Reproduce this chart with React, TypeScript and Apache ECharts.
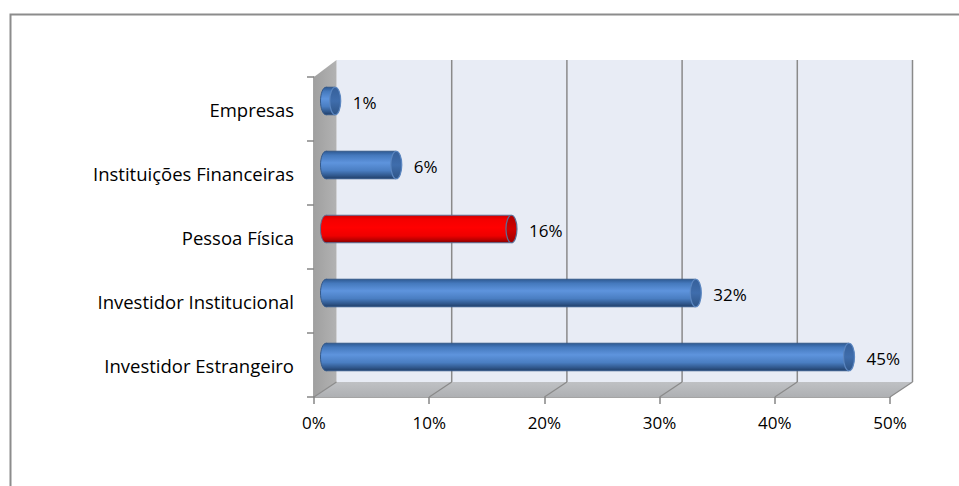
import React, { useEffect, useRef } from "react";
import * as echarts from "echarts";

const categories = [
  "Empresas",
  "Instituições Financeiras",
  "Pessoa Física",
  "Investidor Institucional",
  "Investidor Estrangeiro",
];
const values = [0.8, 6.1, 16.1, 32.1, 45.4];
const highlighted = [false, false, true, false, false];
const xMin = 0;
const xMax = 50;
const xStep = 10;

const FONT = "'Open Sans', Lato, sans-serif";
const FS = 17;
const CAT_FS = 18.5;
const BACK_DX = 22.5;
const BACK_DY = -15;
const BAR_DX = 12;
const BAR_DY = -8;

export default function App() {
  const ref = useRef<HTMLDivElement>(null);

  useEffect(() => {
    if (!ref.current) return;
    const chart = echarts.init(ref.current, null, { renderer: "svg" });

    const blueBody = () =>
      new echarts.graphic.LinearGradient(0, 0, 0, 1, [
        { offset: 0, color: "#2e5a93" },
        { offset: 0.15, color: "#4579bd" },
        { offset: 0.42, color: "#5e94dd" },
        { offset: 0.7, color: "#4a7ec2" },
        { offset: 0.88, color: "#31598f" },
        { offset: 1, color: "#213f68" },
      ]);
    const redBody = () =>
      new echarts.graphic.LinearGradient(0, 0, 0, 1, [
        { offset: 0, color: "#d00000" },
        { offset: 0.15, color: "#f40000" },
        { offset: 0.45, color: "#ff0000" },
        { offset: 0.75, color: "#ee0000" },
        { offset: 0.9, color: "#b80000" },
        { offset: 1, color: "#800000" },
      ]);

    const wallsData = [[0, 0]];
    const barData = values.map((v, i) => [v, i]);
    const ticks: number[] = [];
    for (let v = xMin; v <= xMax; v += xStep) ticks.push(v);

    chart.setOption({
      animation: false,
      backgroundColor: "#ffffff",
      grid: { left: 314, right: 69, top: 77, bottom: 89, containLabel: false },
      xAxis: {
        type: "value",
        min: xMin,
        max: xMax,
        interval: xStep,
        axisLine: { show: true, lineStyle: { color: "#868686", width: 1.5 } },
        axisTick: { show: true, length: 7, lineStyle: { color: "#868686", width: 1.5 } },
        splitLine: { show: false },
        axisLabel: {
          formatter: "{value}%",
          color: "#000",
          fontSize: FS,
          fontFamily: FONT,
          margin: 17,
        },
      },
      yAxis: {
        type: "category",
        data: categories,
        inverse: true,
        axisLine: { show: true, lineStyle: { color: "#868686", width: 1.5 } },
        axisTick: { show: true, length: 7, lineStyle: { color: "#868686", width: 1.5 } },
        splitLine: { show: false },
        axisLabel: {
          color: "#000",
          fontSize: CAT_FS,
          fontFamily: FONT,
          margin: 20,
        },
      },
      graphic: [
        {
          type: "rect",
          shape: { x: 10.5, y: 14.5, width: 1000, height: 1000 },
          style: { fill: "none", stroke: "#8c8c8c", lineWidth: 2 },
          silent: true,
          z: 0,
        },
      ],
      series: [
        {
          type: "custom",
          z: 1,
          silent: true,
          data: wallsData,
          encode: { x: 0, y: 1 },
          renderItem: (params: any, api: any) => {
            const cs = params.coordSys;
            const L = cs.x;
            const T = cs.y;
            const B = cs.y + cs.height;
            const R = cs.x + cs.width;
            const children: any[] = [];
            children.push({
              type: "rect",
              shape: { x: L + BACK_DX, y: T + BACK_DY - 2, width: R - L, height: B - T + 2 },
              style: { fill: "#e8ecf5" },
            });
            children.push({
              type: "polygon",
              shape: {
                points: [
                  [L, B],
                  [L + BACK_DX, B + BACK_DY],
                  [R + BACK_DX, B + BACK_DY],
                  [R, B],
                ],
              },
              style: {
                fill: new echarts.graphic.LinearGradient(0, 0, 0, 1, [
                  { offset: 0, color: "#bfc1c4" },
                  { offset: 1, color: "#aeb0b3" },
                ]),
              },
            });
            children.push({
              type: "polygon",
              shape: {
                points: [
                  [L, T],
                  [L + BACK_DX, T + BACK_DY - 2],
                  [L + BACK_DX, B + BACK_DY],
                  [L, B],
                ],
              },
              style: {
                fill: new echarts.graphic.LinearGradient(0, 0, 1, 0, [
                  { offset: 0, color: "#a0a0a0" },
                  { offset: 1, color: "#b2b2b2" },
                ]),
              },
            });
            ticks.forEach((v) => {
              const x = api.coord([v, 0])[0];
              if (v > xMin) {
                children.push({
                  type: "line",
                  shape: { x1: x + BACK_DX, y1: T + BACK_DY - 2, x2: x + BACK_DX, y2: B + BACK_DY },
                  style: { stroke: "#8a8a8a", lineWidth: 1.5 },
                });
              }
              children.push({
                type: "line",
                shape: { x1: x + BACK_DX, y1: B + BACK_DY, x2: x, y2: B },
                style: { stroke: "#8a8a8a", lineWidth: 1.2 },
              });
            });
            return { type: "group", children };
          },
        },
        {
          type: "custom",
          z: 3,
          silent: true,
          data: barData,
          encode: { x: 0, y: 1 },
          renderItem: (params: any, api: any) => {
            const v = api.value(0);
            const idx = api.value(1);
            const p0 = api.coord([0, idx]);
            const p1 = api.coord([v, idx]);
            const band = api.size([0, 1])[1];
            const h = band * 0.43;
            const cy = p0[1] + BAR_DY;
            const x0 = p0[0] + BAR_DX;
            const x1 = p1[0] + BAR_DX;
            const rx = 5.5;
            const red = highlighted[params.dataIndex];
            const outline = red ? "#5a6f96" : "#34598a";
            const children: any[] = [
              {
                type: "ellipse",
                shape: { cx: x0, cy, rx, ry: h / 2 },
                style: { fill: red ? redBody() : blueBody(), stroke: outline, lineWidth: 1 },
              },
              {
                type: "rect",
                shape: { x: x0, y: cy - h / 2, width: Math.max(x1 - x0, 0), height: h },
                style: { fill: red ? redBody() : blueBody() },
              },
              {
                type: "line",
                shape: { x1: x0, y1: cy - h / 2, x2: x1, y2: cy - h / 2 },
                style: { stroke: outline, lineWidth: 1 },
              },
              {
                type: "line",
                shape: { x1: x0, y1: cy + h / 2, x2: x1, y2: cy + h / 2 },
                style: { stroke: outline, lineWidth: 1 },
              },
              {
                type: "ellipse",
                shape: { cx: x1, cy, rx, ry: h / 2 },
                style: {
                  fill: red
                    ? new echarts.graphic.LinearGradient(0, 0, 0, 1, [
                        { offset: 0, color: "#b00000" },
                        { offset: 0.5, color: "#d00000" },
                        { offset: 1, color: "#a00000" },
                      ])
                    : new echarts.graphic.LinearGradient(0, 0, 0, 1, [
                        { offset: 0, color: "#36609a" },
                        { offset: 0.5, color: "#3f6dac" },
                        { offset: 1, color: "#2f5587" },
                      ]),
                  stroke: red ? "#5a6f96" : "#5b86c0",
                  lineWidth: 1.2,
                },
              },
              {
                type: "text",
                style: {
                  text: Math.round(v) + "%",
                  x: x1 + rx + 12,
                  y: cy + 1,
                  verticalAlign: "middle",
                  align: "left",
                  fill: "#000",
                  font: `${FS}px ${FONT}`,
                },
              },
            ];
            return { type: "group", children };
          },
        },
      ],
    });

    return () => chart.dispose();
  }, []);

  return (
    <div
      ref={ref}
      style={{ position: "absolute", left: 0, top: 0, width: 959, height: 486 }}
    />
  );
}
